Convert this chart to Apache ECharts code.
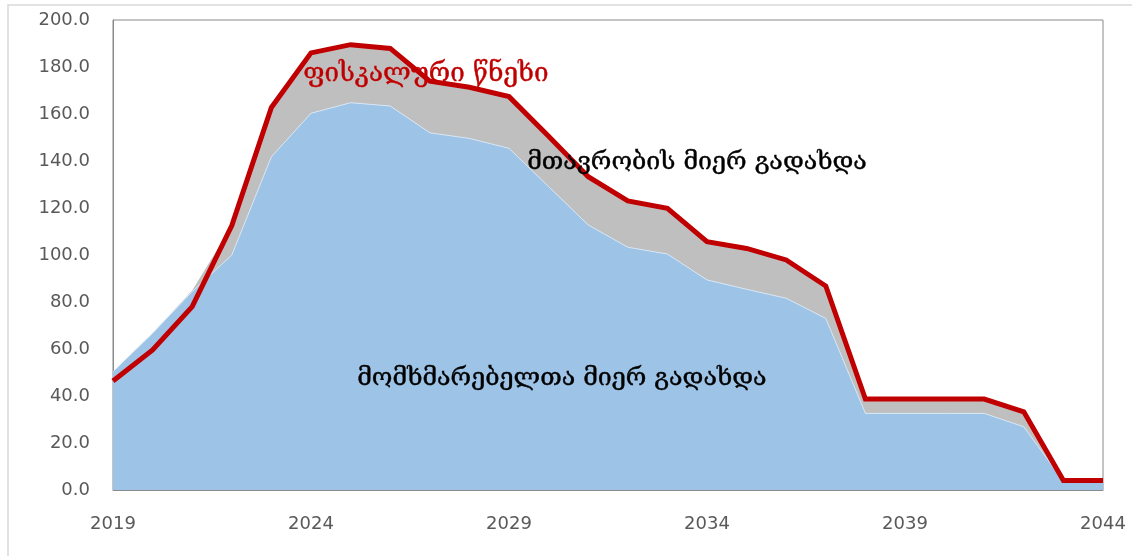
<!DOCTYPE html>
<html>
<head>
<meta charset="utf-8">
<script src="https://cdn.jsdelivr.net/npm/echarts@6/dist/echarts.min.js"></script>
<style>
  html, body { margin: 0; padding: 0; background: #fff; }
  #chart { width: 1132px; height: 556px; }
</style>
</head>
<body>
<div id="chart"></div>
<script>
// years on the x axis
const years = [];
for (let y = 2019; y <= 2044; y++) years.push(String(y));

// payments by consumers (blue area)
const consumers = [50.3, 66.7, 84.4, 100.0, 141.8, 160.3, 164.8, 163.4, 152.0, 149.6, 145.4, 129.1, 112.8,
  103.3, 100.4, 89.4, 85.4, 81.6, 73.0, 32.6, 32.6, 32.6, 32.6, 26.9, 3.8, 3.8];
// payments by government (grey area, stacked on blue)
const government = [0.0, 0.0, 0.5, 12.5, 21.0, 25.7, 24.7, 24.5, 22.0, 21.8, 22.0, 21.4, 20.5,
  19.7, 19.5, 16.3, 17.4, 16.3, 13.8, 6.1, 6.1, 6.1, 6.1, 6.4, 0.2, 0.2];
// fiscal burden (red line)
const fiscal = [46.4, 59.6, 78.0, 112.5, 162.8, 186.0, 189.5, 187.9, 174.0, 171.4, 167.4, 150.5, 133.3,
  123.0, 119.9, 105.7, 102.8, 97.9, 86.8, 38.7, 38.7, 38.7, 38.7, 33.3, 4.0, 4.0];

const labelFont = 'DejaVu Sans';
const geoFont = '"DejaVu Serif", "DejaVu Sans"';

const chart = echarts.init(document.getElementById('chart'));

const option = {
  animation: false,
  backgroundColor: '#fff',
  grid: {
    left: 113, right: 29, top: 20, bottom: 66,
    show: true, borderColor: '#8a8a8a', borderWidth: 1, backgroundColor: 'transparent'
  },
  xAxis: {
    type: 'category',
    data: years,
    boundaryGap: false,
    axisLine: { lineStyle: { color: '#8a8a8a' } },
    axisTick: { show: false },
    axisLabel: { interval: 4, color: '#595959', fontFamily: labelFont, fontSize: 18, margin: 25 },
    splitLine: { show: false }
  },
  yAxis: {
    type: 'value',
    min: 0, max: 200, interval: 20,
    axisLine: { show: true, lineStyle: { color: '#8a8a8a' } },
    axisTick: { show: false },
    axisLabel: {
      color: '#595959', fontFamily: labelFont, fontSize: 18, margin: 23,
      formatter: v => v.toFixed(1)
    },
    splitLine: { show: false }
  },
  series: [
    {
      name: 'consumers', type: 'line', stack: 'pay', data: consumers,
      symbol: 'none', lineStyle: { width: 1, color: '#d6e6f4' },
      areaStyle: { color: '#9dc3e6', opacity: 1 }
    },
    {
      name: 'government', type: 'line', stack: 'pay', data: government,
      symbol: 'none', lineStyle: { width: 0 },
      areaStyle: { color: '#bfbfbf', opacity: 1 }
    },
    {
      name: 'fiscal', type: 'line', data: fiscal, z: 5,
      symbol: 'none', lineStyle: { width: 5, color: '#c00000', join: 'miter' }
    }
  ],
  graphic: [
    {
      type: 'rect', silent: true, z: -1,
      shape: { x: 8, y: 5, width: 1140, height: 570 },
      style: { fill: 'none', stroke: '#d9d9d9', lineWidth: 1.5 }
    },
    {
      type: 'text', left: 303, top: 61, z: 10,
      style: { text: 'ფისკალური წნეხი', fill: '#c00000', font: '26px ' + geoFont, stroke: '#c00000', lineWidth: 0.4 }
    },
    {
      type: 'text', left: 527, top: 150, z: 10,
      style: { text: 'მთავრობის მიერ გადახდა', fill: '#000', font: '25px ' + geoFont, stroke: '#000', lineWidth: 0.4 }
    },
    {
      type: 'text', left: 357, top: 366, z: 10,
      style: { text: 'მომხმარებელთა მიერ გადახდა', fill: '#000', font: '25px ' + geoFont, stroke: '#000', lineWidth: 0.4 }
    }
  ]
};

chart.setOption(option);
</script>
</body>
</html>
